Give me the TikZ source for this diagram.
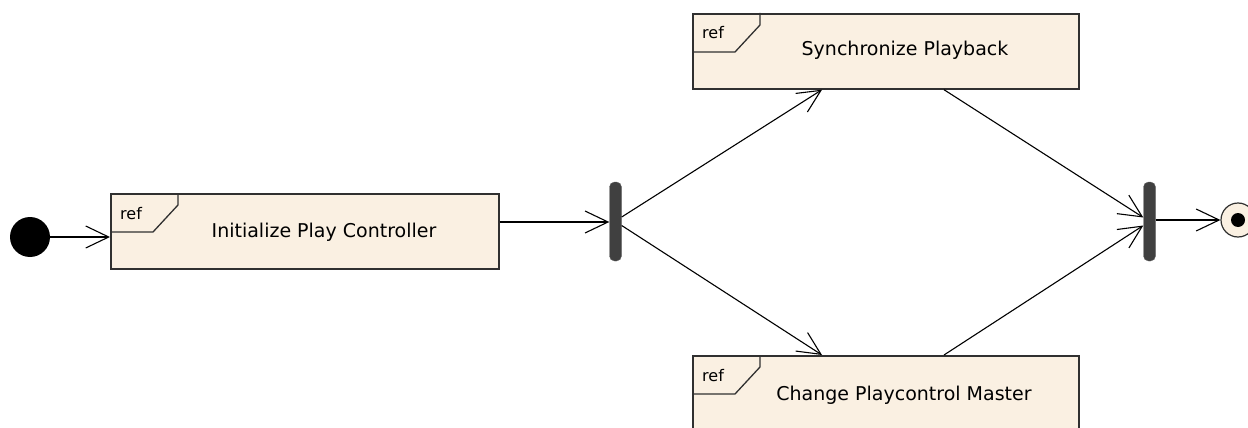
\documentclass[tikz,border=0pt]{standalone}
\usepackage{fontspec}
\setmainfont{DejaVu Sans}
\usetikzlibrary{arrows.meta,calc}

\definecolor{actfill}{RGB}{250,240,226}
\definecolor{actline}{RGB}{48,48,48}
\definecolor{barfill}{RGB}{64,64,64}

\tikzset{
  action/.style={draw=actline, line width=1.7pt, fill=actfill, rectangle,
    inner sep=0pt, minimum width=386pt, minimum height=75pt, anchor=north west},
  tabline/.style={draw=actline, line width=1.3pt},
  reftext/.style={font=\fontsize{16}{18}\selectfont, anchor=base west, inner sep=0pt},
  acttext/.style={font=\fontsize{19}{22}\selectfont, anchor=base, inner sep=0pt},
  syncbar/.style={fill=barfill, draw=barfill!80, rounded corners=5pt, rectangle,
    inner sep=0pt, minimum width=12pt, minimum height=79pt},
  flow/.style={draw=black, line width=1.1pt,
    -{Straight Barb[length=23pt,width=22pt,line width=1.1pt]}},
}

% draw the "ref" frame tab in the upper left corner of an action box
\newcommand{\reftab}[1]{%
  \draw[tabline] ($(#1.north west)+(68,0)$) -- ++(0,12) -- ++(-25,27) -- ($(#1.north west)+(0,39)$);
  \node[reftext] at ($(#1.north west)+(10,26)$) {ref};
}

\begin{document}
\begin{tikzpicture}[x=1pt,y=-1pt]
  \useasboundingbox (0,0) rectangle (1248,428);
  \clip (0,0) rectangle (1248,428);

  % initial node
  \node[circle, fill=black, inner sep=0pt, minimum size=40pt] (init) at (30,237) {};

  % actions
  \node[action, minimum width=388pt] (initbox) at (110,193) {};
  \reftab{initbox}
  \node[acttext] (initlbl) at ($(initbox.north west)+(214,44)$) {Initialize Play Controller};

  \node[action] (sync) at (692,13) {};
  \reftab{sync}
  \node[acttext] (synclbl) at ($(sync.north west)+(213,43)$) {Synchronize Playback};

  \node[action] (change) at (692,355) {};
  \reftab{change}
  \node[acttext] (changelbl) at ($(change.north west)+(212,45)$) {Change Playcontrol Master};

  % fork and join bars
  \node[syncbar] (fork) at (615.5,221.5) {};
  \node[syncbar] (join) at (1149.5,221.5) {};

  % final node
  \node[circle, draw=actline, line width=1.2pt, fill=actfill, inner sep=0pt,
        minimum size=34pt] (final) at (1238,220) {};
  \node[circle, fill=black, inner sep=0pt, minimum size=14pt] (finaldot) at (final) {};

  % control flows
  \draw[flow] (init.east) -- (initbox.west |- init.east);
  \coordinate (initout) at ($(initbox.north east)+(0,29)$);
  \draw[flow] (initout) -- (fork.west |- initout);
  \draw[flow] ($(fork.east)+(0,-4.5)$) -- ($(sync.south west)+(130,0)$);
  \draw[flow] ($(fork.east)+(0,4)$) -- ($(change.north west)+(130,0)$);
  \draw[flow] ($(sync.south west)+(252,0)$) -- ($(join.west)+(0,-4)$);
  \draw[flow] ($(change.north west)+(252,0)$) -- ($(join.west)+(0,4)$);
  \draw[flow] (join.east |- final) -- (final.west);
\end{tikzpicture}
\end{document}
